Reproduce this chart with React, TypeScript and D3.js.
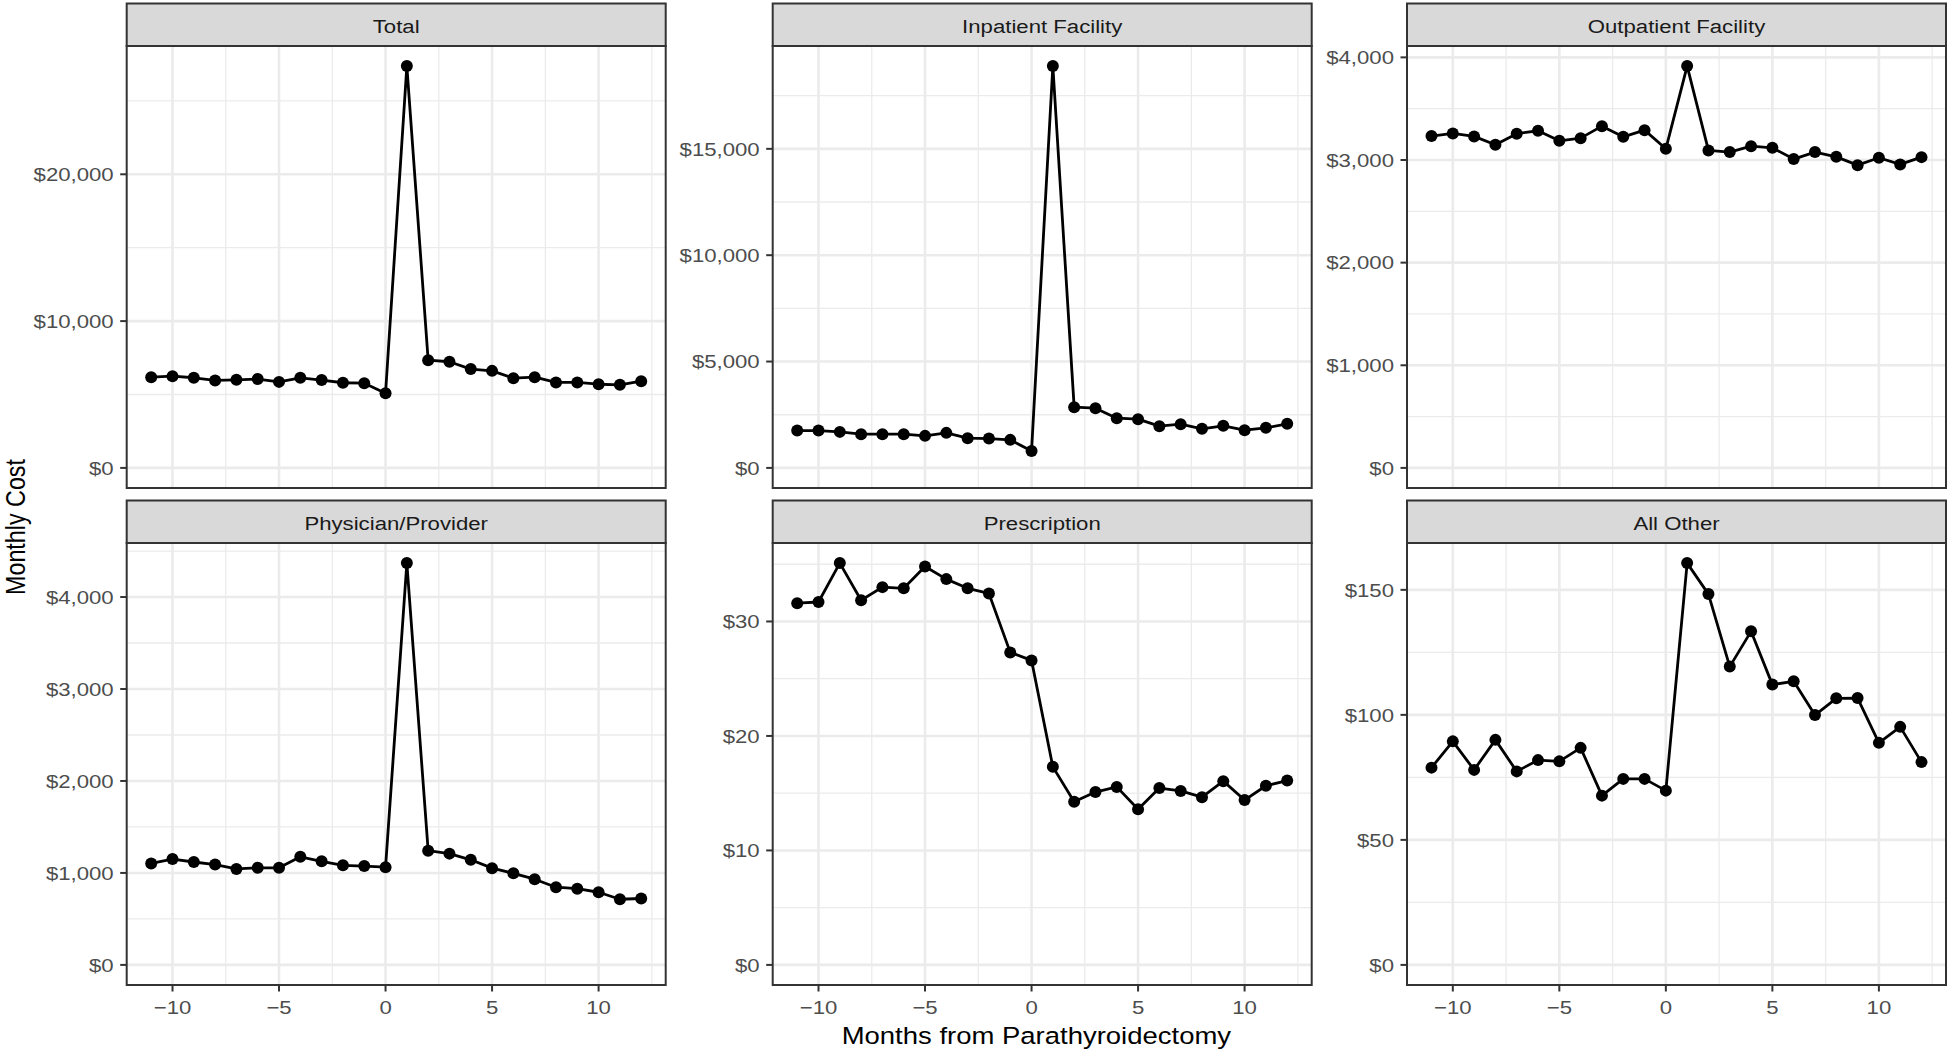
import React from "react";
import * as d3 from "d3";

// ---------- data ----------
const months = [-11, -10, -9, -8, -7, -6, -5, -4, -3, -2, -1, 0, 1, 2, 3, 4, 5, 6, 7, 8, 9, 10, 11, 12];

const panelNames = ["Total", "Inpatient Facility", "Outpatient Facility", "Physician/Provider", "Prescription", "All Other"];

const totalCost = [6180, 6250, 6140, 5960, 6000, 6050, 5860, 6140, 5980, 5800, 5770, 5090, 27370, 7340, 7230, 6730, 6610, 6110, 6180, 5820, 5820, 5700, 5660, 5910];
const inpatientCost = [1757, 1757, 1694, 1585, 1585, 1585, 1506, 1647, 1396, 1381, 1318, 800, 18890, 2855, 2808, 2338, 2291, 1961, 2055, 1836, 1977, 1773, 1883, 2071];
const outpatientCost = [3233, 3259, 3230, 3148, 3256, 3285, 3187, 3213, 3330, 3226, 3291, 3109, 3915, 3093, 3077, 3135, 3119, 3009, 3077, 3031, 2950, 3022, 2957, 3028];
const physicianCost = [1103, 1151, 1119, 1091, 1044, 1056, 1056, 1175, 1127, 1083, 1075, 1063, 4369, 1242, 1210, 1143, 1052, 996, 932, 845, 829, 790, 714, 722];
const prescriptionCost = [31.6, 31.7, 35.1, 31.85, 33.0, 32.9, 34.8, 33.7, 32.9, 32.45, 27.3, 26.6, 17.3, 14.25, 15.1, 15.55, 13.6, 15.45, 15.2, 14.65, 16.05, 14.4, 15.65, 16.1];
const allOtherCost = [78.9, 89.4, 78.0, 90.0, 77.4, 81.9, 81.4, 86.8, 67.7, 74.4, 74.4, 69.7, 160.7, 148.3, 119.3, 133.4, 112.1, 113.4, 99.9, 106.6, 106.7, 88.8, 95.2, 81.1];

const panelValues = [totalCost, inpatientCost, outpatientCost, physicianCost, prescriptionCost, allOtherCost];

const yTicksTotal = [0, 10000, 20000];
const yTicksInpatient = [0, 5000, 10000, 15000];
const yTicksOutpatient = [0, 1000, 2000, 3000, 4000];
const yTicksPhysician = [0, 1000, 2000, 3000, 4000];
const yTicksPrescription = [0, 10, 20, 30];
const yTicksAllOther = [0, 50, 100, 150];
const panelYTicks = [yTicksTotal, yTicksInpatient, yTicksOutpatient, yTicksPhysician, yTicksPrescription, yTicksAllOther];

const xTicks = [-10, -5, 0, 5, 10];
const xTickLabels = ["\u221210", "\u22125", "0", "5", "10"];

const xTitle = "Months from Parathyroidectomy";
const yTitle = "Monthly Cost";

// ---------- layout ----------
const W = 1951;
const H = 1052;
const colLefts = [126.7, 772.7, 1407];
const panelW = 539;
const stripTops = [3.5, 500.5];
const stripH = 42.5;
const panelH = 442;
const FONT = "'Liberation Sans', Arial, Helvetica, sans-serif";
const tickFont = 18.8;
const titleFont = 23.3;
const SX = 1.18; // horizontal text stretch seen in the reference

const fmtDollar = (v: number) => "$" + d3.format(",")(v);

function SText(props: {
  x: number;
  y: number;
  anchor: "start" | "middle" | "end";
  size: number;
  fill: string;
  baseline?: string;
  rotate?: number;
  children: React.ReactNode;
}) {
  const { x, y, anchor, size, fill, baseline, rotate, children } = props;
  return (
    <text
      transform={`translate(${x},${y}) scale(${SX},1)${rotate ? ` rotate(${rotate})` : ""}`}
      x={0}
      y={0}
      textAnchor={anchor}
      dominantBaseline={baseline || "auto"}
      fontFamily={FONT}
      fontSize={size}
      fill={fill}
    >
      {children}
    </text>
  );
}

function Panel({ idx }: { idx: number }) {
  const col = idx % 3;
  const row = Math.floor(idx / 3);
  const left = colLefts[col];
  const stripTop = stripTops[row];
  const top = stripTop + stripH;
  const bottom = top + panelH;
  const values = panelValues[idx];
  const ticks = panelYTicks[idx];

  const xMin = d3.min(months)!;
  const xMax = d3.max(months)!;
  const xr = xMax - xMin;
  const x = d3.scaleLinear().domain([xMin - 0.05 * xr, xMax + 0.05 * xr]).range([left, left + panelW]);
  const yMax = d3.max(values)!;
  const y = d3.scaleLinear().domain([-0.05 * yMax, 1.05 * yMax]).range([bottom, top]);

  const yStep = ticks[1] - ticks[0];
  const yMinor = ticks.map((t) => t + yStep / 2).filter((t) => t >= y.domain()[0] && t <= y.domain()[1]);
  const xStep = xTicks[1] - xTicks[0];
  const xMinorAll = [xTicks[0] - xStep / 2, ...xTicks.map((t) => t + xStep / 2)];
  const xMinor = xMinorAll.filter((t) => t >= x.domain()[0] && t <= x.domain()[1]);

  const line = d3
    .line<number>()
    .x((_, i) => x(months[i]))
    .y((d) => y(d));

  const clipId = `clip-${idx}`;
  const showX = row === 1;

  return (
    <g>
      <defs>
        <clipPath id={clipId}>
          <rect x={left} y={top} width={panelW} height={panelH} />
        </clipPath>
      </defs>
      <rect x={left} y={top} width={panelW} height={panelH} fill="#FFFFFF" />
      <g clipPath={`url(#${clipId})`}>
        {yMinor.map((t) => (
          <line key={"ym" + t} x1={left} x2={left + panelW} y1={y(t)} y2={y(t)} stroke="#EBEBEB" strokeWidth={1.3} />
        ))}
        {xMinor.map((t) => (
          <line key={"xm" + t} x1={x(t)} x2={x(t)} y1={top} y2={bottom} stroke="#EBEBEB" strokeWidth={1.3} />
        ))}
        {ticks.map((t) => (
          <line key={"yM" + t} x1={left} x2={left + panelW} y1={y(t)} y2={y(t)} stroke="#EBEBEB" strokeWidth={2.6} />
        ))}
        {xTicks.map((t) => (
          <line key={"xM" + t} x1={x(t)} x2={x(t)} y1={top} y2={bottom} stroke="#EBEBEB" strokeWidth={2.6} />
        ))}
        <path d={line(values) || ""} fill="none" stroke="#000000" strokeWidth={2.8} strokeLinejoin="round" />
        {values.map((v, i) => (
          <circle key={"p" + i} cx={x(months[i])} cy={y(v)} r={6} fill="#000000" />
        ))}
      </g>
      <rect x={left} y={top} width={panelW} height={panelH} fill="none" stroke="#333333" strokeWidth={2} />
      {/* strip */}
      <rect x={left} y={stripTop} width={panelW} height={stripH} fill="#D9D9D9" stroke="#333333" strokeWidth={2} />
      <SText x={left + panelW / 2} y={stripTop + stripH / 2 + 1} anchor="middle" baseline="central" size={tickFont} fill="#1A1A1A">
        {panelNames[idx]}
      </SText>
      {/* y axis */}
      {ticks.map((t) => (
        <g key={"yt" + t}>
          <line x1={left - 6.5} x2={left} y1={y(t)} y2={y(t)} stroke="#333333" strokeWidth={2} />
          <SText x={left - 13} y={y(t)} anchor="end" baseline="central" size={tickFont} fill="#4D4D4D">
            {fmtDollar(t)}
          </SText>
        </g>
      ))}
      {/* x axis */}
      {showX &&
        xTicks.map((t, i) => (
          <g key={"xt" + t}>
            <line x1={x(t)} x2={x(t)} y1={bottom} y2={bottom + 6.5} stroke="#333333" strokeWidth={2} />
            <SText x={x(t)} y={bottom + 22} anchor="middle" baseline="central" size={tickFont} fill="#4D4D4D">
              {xTickLabels[i]}
            </SText>
          </g>
        ))}
    </g>
  );
}

export default function App() {
  const panelsLeft = colLefts[0];
  const panelsRight = colLefts[2] + panelW;
  return (
    <svg
      width={W}
      height={H}
      viewBox={`0 0 ${W} ${H}`}
      style={{ position: "absolute", left: 0, top: 0, background: "#FFFFFF" }}
    >
      <rect x={0} y={0} width={W} height={H} fill="#FFFFFF" />
      {panelNames.map((_, i) => (
        <Panel key={i} idx={i} />
      ))}
      <SText x={(panelsLeft + panelsRight) / 2} y={1044} anchor="middle" size={titleFont} fill="#000000">
        {xTitle}
      </SText>
      <SText x={25} y={527} anchor="middle" size={titleFont} fill="#000000" rotate={-90}>
        {yTitle}
      </SText>
    </svg>
  );
}
